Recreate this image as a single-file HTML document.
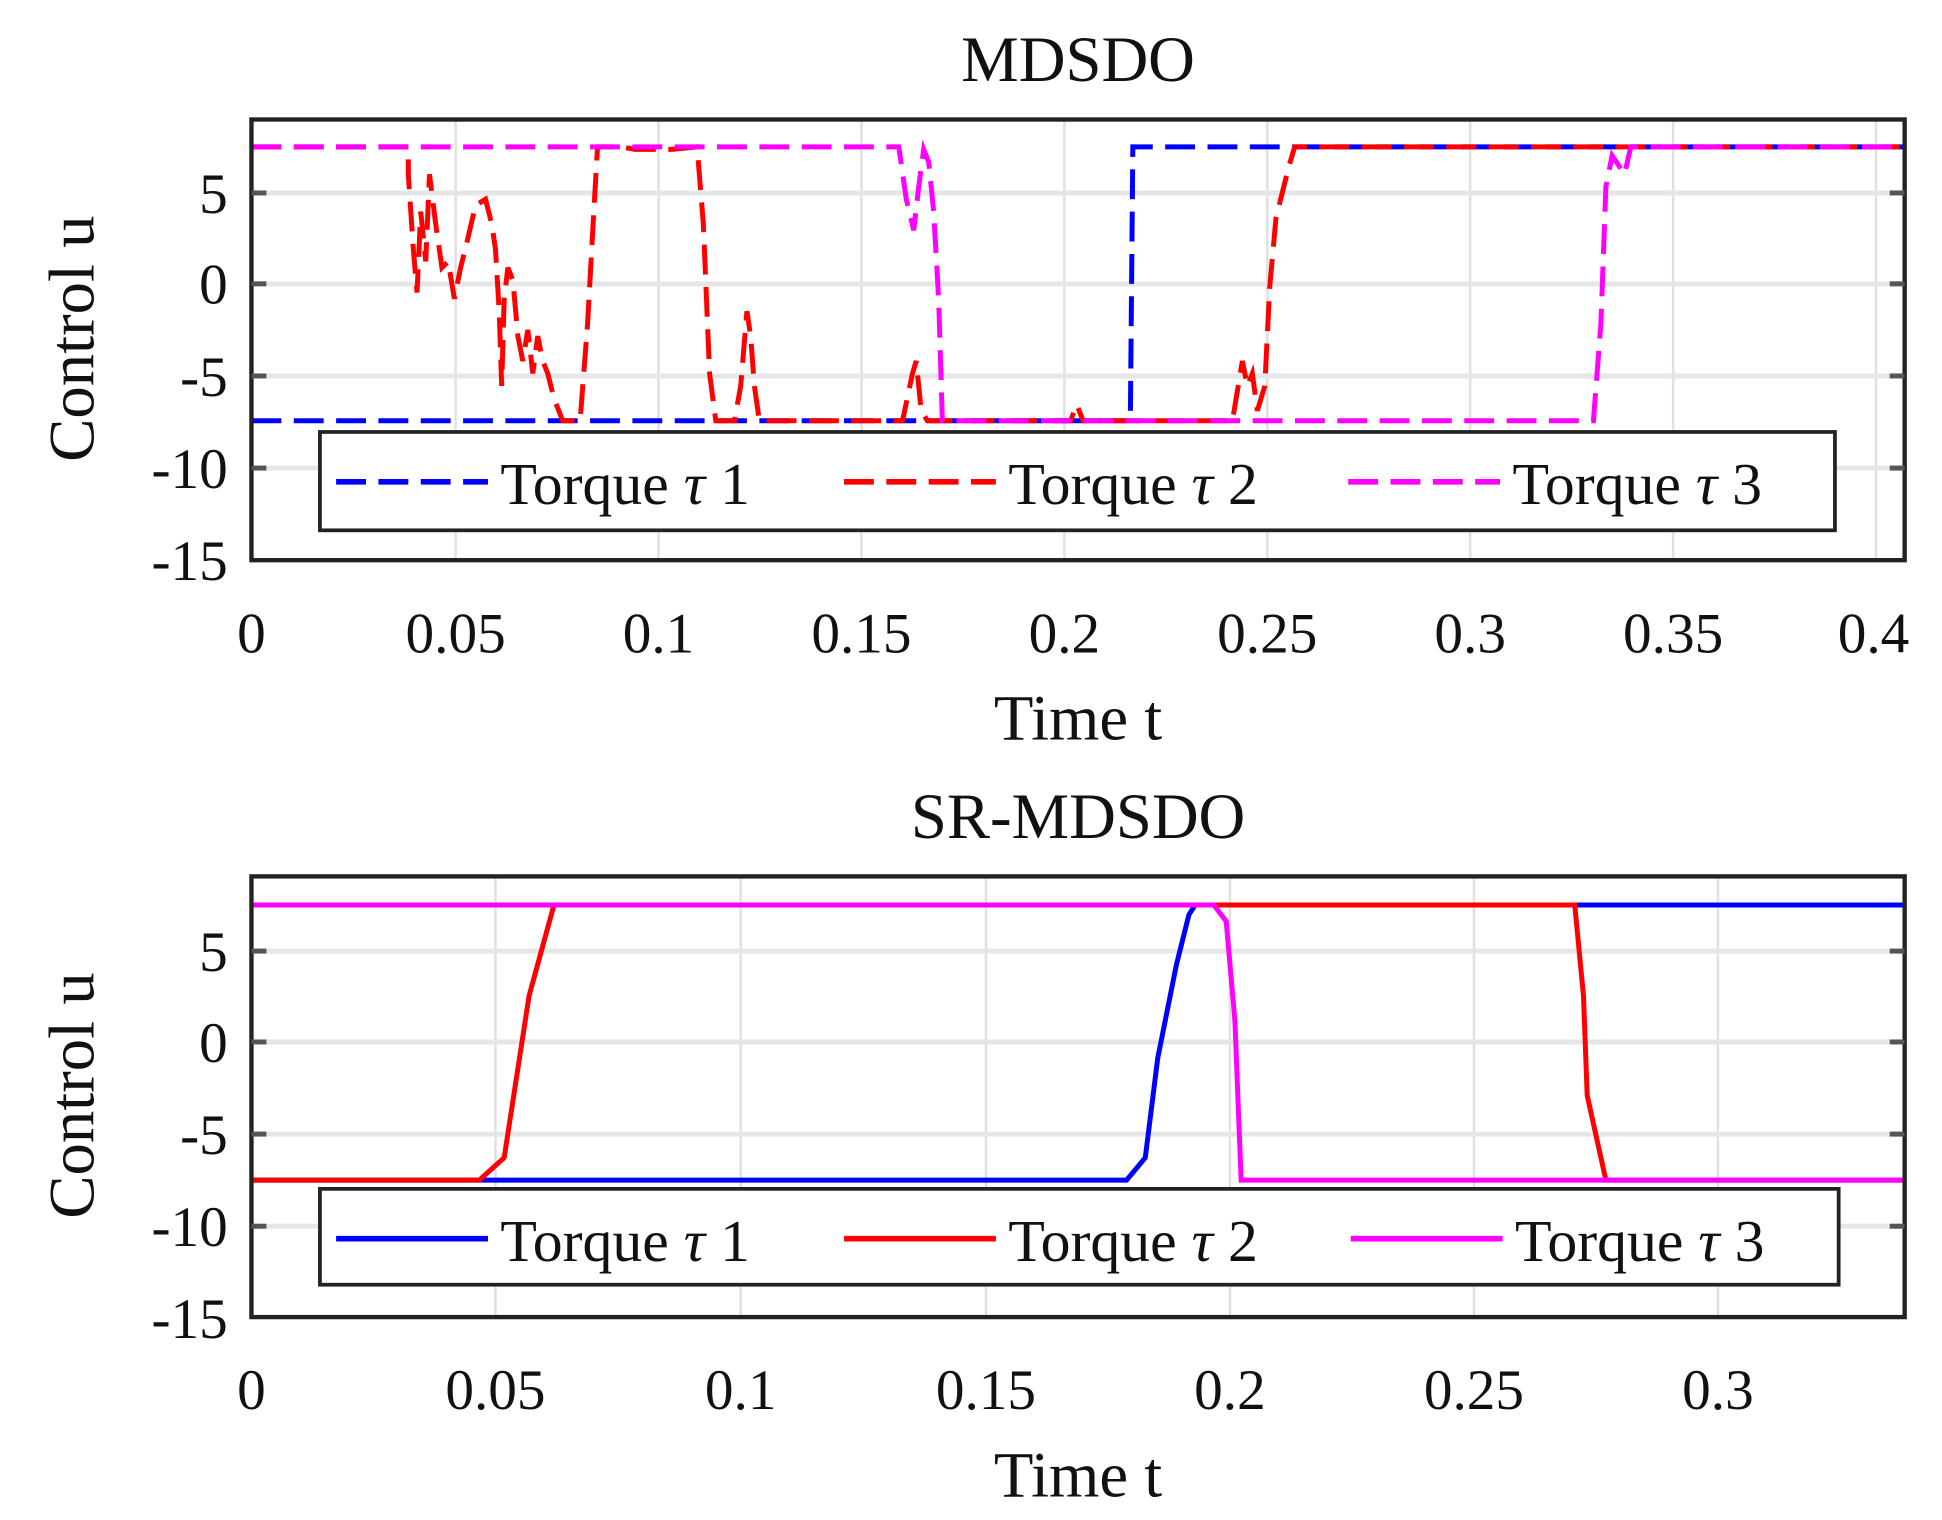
<!DOCTYPE html>
<html><head><meta charset="utf-8"><style>html,body{margin:0;padding:0;background:#fff}svg{display:block}</style></head>
<body>
<svg width="1942" height="1520" viewBox="0 0 1560 1221" preserveAspectRatio="none" xmlns="http://www.w3.org/2000/svg" font-family="Liberation Serif, serif" fill="#111">
<rect width="1560" height="1221" fill="#fff"/>
<!-- TOP -->
<g stroke="#e0e0e0" stroke-width="2">
<line x1="366" y1="96" x2="366" y2="450"/><line x1="529" y1="96" x2="529" y2="450"/><line x1="692" y1="96" x2="692" y2="450"/><line x1="855" y1="96" x2="855" y2="450"/><line x1="1018" y1="96" x2="1018" y2="450"/><line x1="1181" y1="96" x2="1181" y2="450"/><line x1="1344" y1="96" x2="1344" y2="450"/><line x1="1507" y1="96" x2="1507" y2="450"/>
</g>
<g stroke="#e6e6e6" stroke-width="4">
<line x1="202" y1="155" x2="1530" y2="155"/><line x1="202" y1="228" x2="1530" y2="228"/><line x1="202" y1="302" x2="1530" y2="302"/><line x1="202" y1="376" x2="1530" y2="376"/>
</g>
<g fill="none" stroke-width="4" stroke-dasharray="24,10">
<polyline stroke="#0000ff" points="202,338 908,338 910,118 1530,118"/>
<polyline stroke="#ff0000" points="202,118 328,118 328,140 332,200 335,235 338,170 342,210 345,140 350,180 355,215 360,210 365,240 370,215 375,195 382,165 390,160 395,180 398,200 401,250 403,310 405,240 408,215 412,225 416,270 420,290 424,265 428,300 432,270 436,290 440,300 445,320 452,338 466,338 472,260 477,170 480,118 500,118 510,120 540,120 560,118 565,180 570,300 575,338 590,338 595,310 600,250 603,270 606,310 610,338 725,338 733,300 736,290 740,330 745,338 860,338 865,325 870,338 990,338 998,290 1002,310 1006,300 1010,330 1016,310 1020,230 1025,175 1035,135 1040,118 1530,118"/>
<polyline stroke="#ff00ff" points="202,118 722,118 728,160 734,185 738,150 742,120 746,130 750,170 754,240 757,338 1280,338 1286,260 1290,150 1295,125 1305,140 1310,118 1530,118"/>
</g>
<rect x="202" y="96" width="1328" height="354" fill="none" stroke="#222" stroke-width="3.5"/>
<g stroke="#555" stroke-width="4">
<line x1="202" y1="155" x2="214" y2="155"/><line x1="1518" y1="155" x2="1530" y2="155"/><line x1="202" y1="228" x2="214" y2="228"/><line x1="1518" y1="228" x2="1530" y2="228"/><line x1="202" y1="302" x2="214" y2="302"/><line x1="1518" y1="302" x2="1530" y2="302"/><line x1="202" y1="376" x2="214" y2="376"/><line x1="1518" y1="376" x2="1530" y2="376"/>
</g>
<rect x="257" y="347" width="1217" height="79" fill="#fff" stroke="#222" stroke-width="3"/>
<g stroke-width="4.5" stroke-dasharray="24,10"><line x1="270" y1="387" x2="392" y2="387" stroke="#0000ff"/><line x1="678" y1="387" x2="800" y2="387" stroke="#ff0000"/><line x1="1083" y1="387" x2="1205" y2="387" stroke="#ff00ff"/></g>
<g font-size="48"><text x="402" y="405">Torque <tspan font-style="italic">τ</tspan> 1</text><text x="810" y="405">Torque <tspan font-style="italic">τ</tspan> 2</text><text x="1215" y="405">Torque <tspan font-style="italic">τ</tspan> 3</text></g>
<text x="866" y="65" font-size="52" text-anchor="middle">MDSDO</text>
<g font-size="46" text-anchor="end"><text x="183" y="171">5</text><text x="183" y="244">0</text><text x="183" y="318">-5</text><text x="183" y="392">-10</text><text x="183" y="466">-15</text></g>
<g font-size="46" text-anchor="middle"><text x="202" y="524">0</text><text x="366" y="524">0.05</text><text x="529" y="524">0.1</text><text x="692" y="524">0.15</text><text x="855" y="524">0.2</text><text x="1018" y="524">0.25</text><text x="1181" y="524">0.3</text><text x="1344" y="524">0.35</text><text x="1505" y="524">0.4</text></g>
<text x="866" y="594" font-size="52" text-anchor="middle">Time t</text>
<text transform="translate(75,272) rotate(-90)" font-size="52" text-anchor="middle">Control u</text>
<!-- BOTTOM -->
<g stroke="#e0e0e0" stroke-width="2">
<line x1="398" y1="704" x2="398" y2="1058"/><line x1="595" y1="704" x2="595" y2="1058"/><line x1="792" y1="704" x2="792" y2="1058"/><line x1="988" y1="704" x2="988" y2="1058"/><line x1="1184" y1="704" x2="1184" y2="1058"/><line x1="1380" y1="704" x2="1380" y2="1058"/>
</g>
<g stroke="#e6e6e6" stroke-width="4">
<line x1="202" y1="764" x2="1530" y2="764"/><line x1="202" y1="837" x2="1530" y2="837"/><line x1="202" y1="911" x2="1530" y2="911"/><line x1="202" y1="985" x2="1530" y2="985"/>
</g>
<g fill="none" stroke-width="4">
<polyline stroke="#0000ff" points="202,948 905,948 920,930 930,850 945,775 955,735 960,727 1530,727"/>
<polyline stroke="#ff0000" points="202,948 385,948 405,930 425,800 445,727 1265,727 1272,800 1275,880 1290,948 1530,948"/>
<polyline stroke="#ff00ff" points="202,727 975,727 985,740 992,820 997,948 1530,948"/>
</g>
<rect x="202" y="704" width="1328" height="354" fill="none" stroke="#222" stroke-width="3.5"/>
<g stroke="#555" stroke-width="4">
<line x1="202" y1="764" x2="214" y2="764"/><line x1="1518" y1="764" x2="1530" y2="764"/><line x1="202" y1="837" x2="214" y2="837"/><line x1="1518" y1="837" x2="1530" y2="837"/><line x1="202" y1="911" x2="214" y2="911"/><line x1="1518" y1="911" x2="1530" y2="911"/><line x1="202" y1="985" x2="214" y2="985"/><line x1="1518" y1="985" x2="1530" y2="985"/>
</g>
<rect x="257" y="955" width="1220" height="77" fill="#fff" stroke="#222" stroke-width="3"/>
<g stroke-width="4.5"><line x1="270" y1="995" x2="392" y2="995" stroke="#0000ff"/><line x1="678" y1="995" x2="800" y2="995" stroke="#ff0000"/><line x1="1085" y1="995" x2="1207" y2="995" stroke="#ff00ff"/></g>
<g font-size="48"><text x="402" y="1013">Torque <tspan font-style="italic">τ</tspan> 1</text><text x="810" y="1013">Torque <tspan font-style="italic">τ</tspan> 2</text><text x="1217" y="1013">Torque <tspan font-style="italic">τ</tspan> 3</text></g>
<text x="866" y="673" font-size="52" text-anchor="middle">SR-MDSDO</text>
<g font-size="46" text-anchor="end"><text x="183" y="780">5</text><text x="183" y="853">0</text><text x="183" y="927">-5</text><text x="183" y="1001">-10</text><text x="183" y="1075">-15</text></g>
<g font-size="46" text-anchor="middle"><text x="202" y="1132">0</text><text x="398" y="1132">0.05</text><text x="595" y="1132">0.1</text><text x="792" y="1132">0.15</text><text x="988" y="1132">0.2</text><text x="1184" y="1132">0.25</text><text x="1380" y="1132">0.3</text></g>
<text x="866" y="1202" font-size="52" text-anchor="middle">Time t</text>
<text transform="translate(75,880) rotate(-90)" font-size="52" text-anchor="middle">Control u</text>
</svg>
</body></html>
